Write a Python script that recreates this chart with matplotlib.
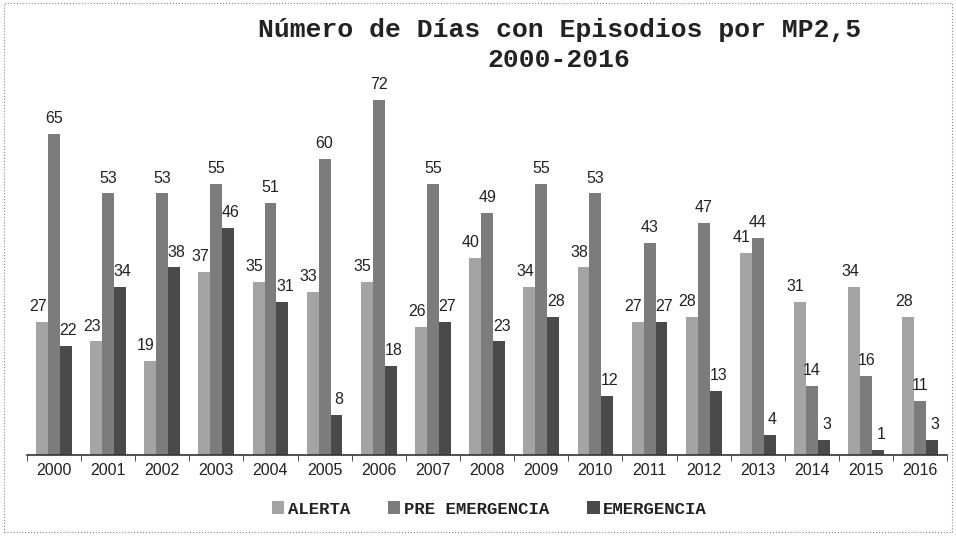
import numpy as np
import matplotlib.pyplot as plt
from matplotlib.patches import Rectangle

# Número de días con episodios por MP2,5
years = ['2000', '2001', '2002', '2003', '2004', '2005', '2006', '2007', '2008',
         '2009', '2010', '2011', '2012', '2013', '2014', '2015', '2016']
alerta = [27, 23, 19, 37, 35, 33, 35, 26, 40, 34, 38, 27, 28, 41, 31, 34, 28]
pre_emergencia = [65, 53, 53, 55, 51, 60, 72, 55, 49, 55, 53, 43, 47, 44, 14, 16, 11]
emergencia = [22, 34, 38, 46, 31, 8, 18, 27, 23, 28, 12, 27, 13, 4, 3, 1, 3]

series = [('ALERTA', alerta, '#a4a4a4', -0.08),
          ('PRE EMERGENCIA', pre_emergencia, '#7c7c7c', 0.0),
          ('EMERGENCIA', emergencia, '#4a4a4a', 0.05)]

fig = plt.figure(figsize=(9.56, 5.37), dpi=100)
ax = fig.add_axes([0.028, 0.153, 0.963, 0.698])

x = np.arange(len(years))
w = 0.22
for i, (name, vals, color, dx) in enumerate(series):
    pos = x + (i - 1) * w
    ax.bar(pos, vals, width=w, color=color, label=name, edgecolor='none')
    for xp, v in zip(pos, vals):
        ax.text(xp + dx, v + 1.6, str(v), ha='center', va='bottom',
                fontsize=11.5, family='Liberation Sans', color='#222222')

ax.set_xlim(-0.46, len(years) - 1 + 0.42)
ax.set_ylim(0, 76)
ax.set_yticks([])
for side in ['left', 'right', 'top']:
    ax.spines[side].set_visible(False)
ax.spines['bottom'].set_color('#333333')
ax.spines['bottom'].set_linewidth(1.2)

ax.set_xticks(x)
ax.set_xticklabels(years, fontsize=11.5, family='Liberation Sans', color='#222222')
ax.tick_params(axis='x', which='major', length=0, pad=6)
ax.set_xticks(np.arange(len(years) + 1) - 0.5, minor=True)
ax.tick_params(axis='x', which='minor', length=4, color='#333333')

fig.text(0.585, 0.945, 'Número de Días con Episodios por MP2,5', ha='center', va='center',
         fontsize=19, fontweight='bold', family='Liberation Mono', color='#222222')
fig.text(0.585, 0.888, '2000-2016', ha='center', va='center',
         fontsize=19, fontweight='bold', family='Liberation Mono', color='#222222')

leg = fig.legend(loc='center', bbox_to_anchor=(0.512, 0.052), ncol=3, frameon=False,
                 prop={'family': 'Liberation Mono', 'weight': 'bold', 'size': 12.5},
                 handlelength=0.7, handleheight=0.7, handletextpad=0.2, columnspacing=2.2)
for t in leg.get_texts():
    t.set_color('#222222')

# dotted frame of the scanned page
fig.patches.append(Rectangle((0.004, 0.01), 0.992, 0.985, transform=fig.transFigure,
                             fill=False, edgecolor='#888888', linewidth=0.8,
                             linestyle=':'))

fig.savefig('out.png', dpi=100)
